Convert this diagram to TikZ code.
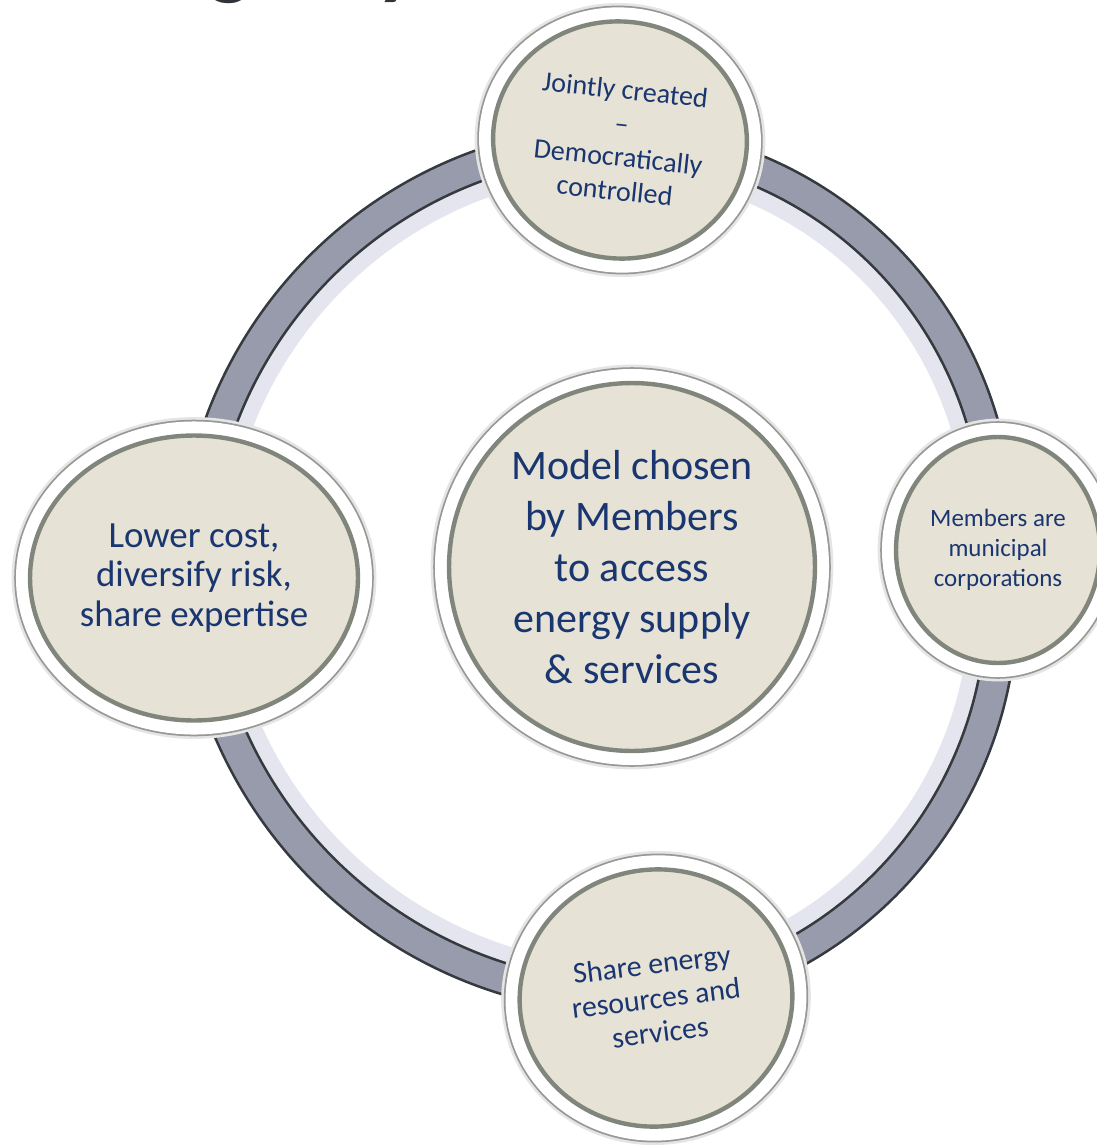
\documentclass[tikz,border=0pt]{standalone}
\usepackage{fontspec}
\setmainfont{Carlito}
\usetikzlibrary{shapes,calc,positioning,backgrounds}
\definecolor{beige}{RGB}{230,226,213}
\definecolor{diskedge}{RGB}{128,134,124}
\definecolor{rimline}{RGB}{150,152,150}
\definecolor{ringgray}{RGB}{152,155,171}
\definecolor{ringedge}{RGB}{52,58,62}
\definecolor{ringshade}{RGB}{196,198,218}
\definecolor{navy}{RGB}{26,54,112}
\definecolor{titlegray}{RGB}{48,52,56}
\tikzset{
    disk/.style={ellipse, inner sep=0pt, fill=beige, draw=diskedge, line width=2.5pt,
        text=navy, align=center,
        preaction={draw=black!10, line width=21pt},
        preaction={draw=rimline, line width=18pt},
        preaction={draw=white, line width=16pt}},
    ring/.style={draw=ringedge, line width=19pt,
        postaction={draw=ringgray, line width=16pt}},
    ringshadow/.style={draw=ringshade, line width=14pt, opacity=0.45},
    title/.style={text=titlegray, inner sep=0pt, font=\fontsize{51}{51}\selectfont\bfseries}
}

\begin{document}
\begin{tikzpicture}[x=0.02cm, y=-0.02cm]
  \useasboundingbox (0,0) rectangle (1097,1146);

  % heading, cut off at the top edge
  \begin{scope}
    \clip (0,0) rectangle (1097,1146);
    \node[title, anchor=base] (tg) at (230,-11) {g};
    \node[title, anchor=base] (ty) at (398,-11) {y};
  \end{scope}

  \coordinate (hub) at (598,574);

  \node[disk, minimum width=7.32cm, minimum height=7.36cm,
        font=\fontsize{23.9}{29}\selectfont] (model) at (632,567)
        {Model chosen\\by Members\\to access\\energy supply\\\& services};
  \node[disk, rotate=-6, minimum width=5.08cm, minimum height=4.74cm,
        font=\fontsize{16}{19.2}\selectfont] (joint) at (620,140)
        {Jointly created\\–\\Democratically\\controlled};
  \node[disk, minimum width=4.08cm, minimum height=4.52cm,
        font=\fontsize{14.2}{17}\selectfont] (members) at (998,550)
        {Members are\\municipal\\corporations};
  \node[disk, rotate=7, minimum width=5.46cm, minimum height=5.14cm,
        font=\fontsize{17}{19.5}\selectfont] (share) at (656,998)
        {Share energy\\resources and\\services};
  \node[disk, minimum width=6.56cm, minimum height=5.7cm,
        font=\fontsize{21}{22.5}\selectfont] (cost) at (194,578)
        {Lower cost,\\diversify risk,\\share expertise};

  \begin{scope}[on background layer]
    \draw[ringshadow, transform canvas={scale around={0.95:(hub)}}]
      (joint.center) to[bend left=45] (members.center)
      to[bend left=45] (share.center) to[bend left=45] (cost.center)
      to[bend left=45] (joint.center);
    \draw[ring]
      (joint.center) to[bend left=45] (members.center)
      to[bend left=45] (share.center) to[bend left=45] (cost.center)
      to[bend left=45] (joint.center);
  \end{scope}
\end{tikzpicture}
\end{document}
